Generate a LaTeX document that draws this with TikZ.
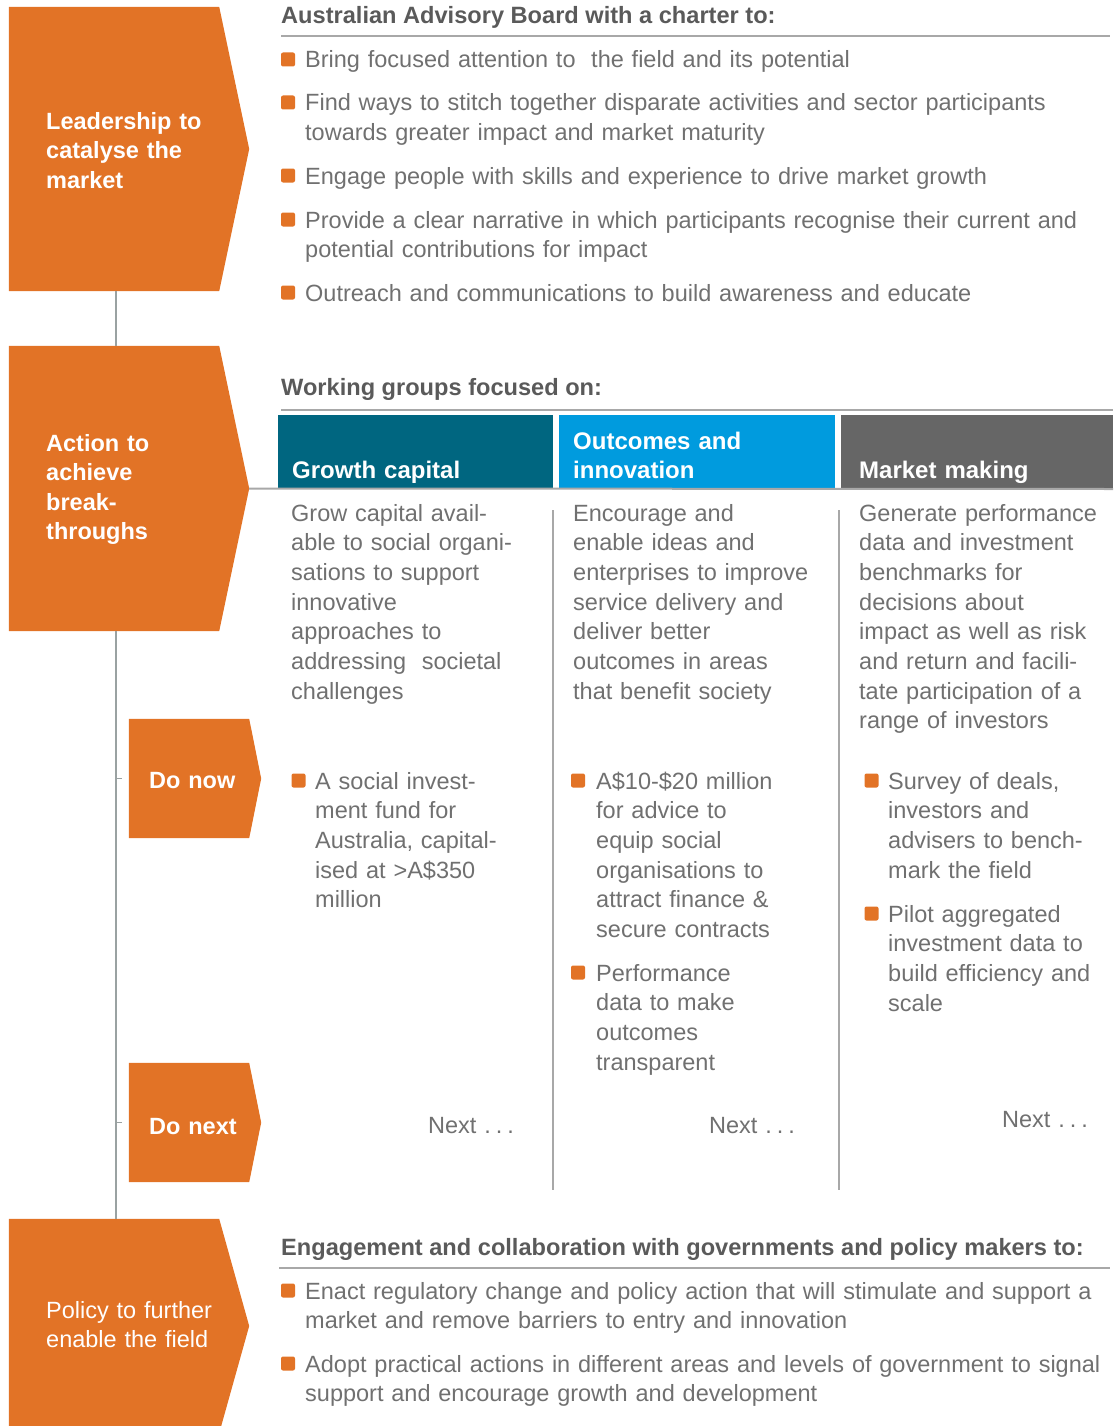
\documentclass[tikz,border=0pt]{standalone}
\usepackage{fontspec}
\setmainfont{Liberation Sans}
\definecolor{corg}{HTML}{E27326}
\definecolor{cteal}{HTML}{006680}
\definecolor{cblue}{HTML}{009BDE}
\definecolor{cgrey}{HTML}{666666}
\definecolor{ctext}{HTML}{707070}
\definecolor{chead}{HTML}{5A5A5A}
\definecolor{cline}{HTML}{A8A8A8}
\definecolor{cspine}{HTML}{9AA2A2}
\newcommand\chevfill[2]{\fill[corg] (#1.north west) -- (#1.north east) -- ([xshift=#2]#1.east) -- (#1.south east) -- (#1.south west) -- cycle;}
\newcommand\mybul[3]{\node[bulsq] (#1) at ([xshift=#3,yshift=8.5pt]#2.base west) {};}
\newcommand\nextdots{Next .\hspace{5pt}.\hspace{5pt}.}
\begin{document}
\begin{tikzpicture}[x=1pt,y=-1pt,
  chevrect/.style={rectangle,inner sep=0pt,draw=none},
  bodytxt/.style={font=\fontsize{23.5}{29.7}\selectfont,text=ctext,align=left,inner sep=0pt,anchor=base west,text width=#1},
  bodytxt/.default=810pt,
  chevtxt/.style={font=\bfseries\fontsize{23.5}{29.5}\selectfont,text=white,align=left,inner sep=0pt,anchor=base west,text width=200pt},
  headtxt/.style={font=\bfseries\fontsize{23.6}{26}\selectfont,text=chead,anchor=base west,inner sep=0pt},
  colhead/.style={font=\bfseries\fontsize{24}{29.5}\selectfont,text=white,align=left,inner sep=0pt,anchor=base west,text width=250pt},
  colbox/.style={rectangle,inner sep=0pt,minimum height=74pt,anchor=north west},
  bulsq/.style={fill=corg,rounded corners=2pt,minimum size=14pt,inner sep=0pt,draw=none},
  rulel/.style={draw=cline,line width=1.5pt},
  spine/.style={draw=cspine,line width=1.5pt}]
\useasboundingbox (0,0) rectangle (1113,1426);
\begin{scope}
\clip (0,0) rectangle (1113,1426);
% chevrons
\node[chevrect,minimum width=210pt,minimum height=284pt] (lead) at (114,149) {};
\chevfill{lead}{30pt}
\node[chevrect,minimum width=210pt,minimum height=285pt] (act) at (114,488.5) {};
\chevfill{act}{30pt}
\node[chevrect,minimum width=210pt,minimum height=214pt] (pol) at (114,1326) {};
\chevfill{pol}{30pt}
\node[chevrect,minimum width=120pt,minimum height=119pt] (donow) at (189,778.5) {};
\chevfill{donow}{12pt}
\node[chevrect,minimum width=120pt,minimum height=119pt] (donext) at (189,1122.5) {};
\chevfill{donext}{12pt}
\end{scope}
% spine connectors
\draw[spine] ([xshift=2pt]lead.south) -- ([xshift=2pt]act.north);
\draw[spine] ([xshift=2pt]act.south) coordinate (spinetop) -- ([xshift=2pt]pol.north);
\draw[spine,line width=1pt,shorten >=7pt] (spinetop |- donow.west) -- (donow.west);
\draw[spine,line width=1pt,shorten >=7pt] (spinetop |- donext.west) -- (donext.west);
% chevron texts
\node[chevtxt] (leadtxt) at (46,129) {Leadership to\\catalyse the\\market};
\node[chevtxt] (acttxt) at (46,451) {Action to\\achieve\\break-\\throughs};
\node[chevtxt,font=\fontsize{23.5}{29.5}\selectfont] (poltxt) at (46,1318) {Policy to further\\enable the field};
\node[chevtxt] (donowtxt) at (149,788) {Do now};
\node[chevtxt] (donexttxt) at (149,1134) {Do next};
% section 1
\node[headtxt] (h1) at (281,24) {Australian Advisory Board with a charter to:};
\draw[rulel] (281,36) -- (1110,36);
\node[bodytxt] (a1) at (305,68) {Bring focused attention to\ \ the field and its potential};
\node[bodytxt] (a2) at (305,111) {Find ways to stitch together disparate activities and sector participants\\towards greater impact and market maturity};
\node[bodytxt] (a3) at (305,184) {Engage people with skills and experience to drive market growth};
\node[bodytxt] (a4) at (305,228) {Provide a clear narrative in which participants recognise their current and\\potential contributions for impact};
\node[bodytxt] (a5) at (305,301) {Outreach and communications to build awareness and educate};
\mybul{ba1}{a1}{-17pt}
\mybul{ba2}{a2}{-17pt}
\mybul{ba3}{a3}{-17pt}
\mybul{ba4}{a4}{-17pt}
\mybul{ba5}{a5}{-17pt}
% section 2
\node[headtxt] (h2) at (281,395) {Working groups focused on:};
\draw[rulel] (281,410) -- (1113,410);
\node[colbox,fill=cteal,minimum width=275pt] (cg) at (278,415) {};
\node[colbox,fill=cblue,minimum width=276pt] (co) at (559,415) {};
\node[colbox,fill=cgrey,minimum width=272pt] (cm) at (841,415) {};
\node[colhead] (cgt) at (292,478) {Growth capital};
\node[colhead] (cot) at (573,449) {Outcomes and\\innovation};
\node[colhead] (cmt) at (859,478) {Market making};
\coordinate (rightend) at (1113,489);
\draw[draw=cline,line width=2pt] ([xshift=30pt]act.east) -- (rightend);
\draw[rulel] (553,510) -- (553,1190);
\draw[rulel] (839,510) -- (839,1190);
\node[bodytxt=260pt] (g1) at (291,521) {Grow capital avail-\\able to social organi-\\sations to support\\innovative\\approaches to\\addressing\ \ societal\\challenges};
\node[bodytxt=260pt] (o1) at (573,521) {Encourage and\\enable ideas and\\enterprises to improve\\service delivery and\\deliver better\\outcomes in areas\\that benefit society};
\node[bodytxt=260pt] (m1) at (859,521) {Generate performance\\data and investment\\benchmarks for\\decisions about\\impact as well as risk\\and return and facili-\\tate participation of a\\range of investors};
\node[bodytxt=230pt] (g2) at (315,789) {A social invest-\\ment fund for\\Australia, capital-\\ised at >A\$350\\million};
\node[bodytxt=230pt] (o2) at (596,789) {A\$10-\$20 million\\for advice to\\equip social\\organisations to\\attract finance \&\\secure contracts};
\node[bodytxt=230pt] (o3) at (596,981) {Performance\\data to make\\outcomes\\transparent};
\node[bodytxt=230pt] (m2) at (888,789) {Survey of deals,\\investors and\\advisers to bench-\\mark the field};
\node[bodytxt=230pt] (m3) at (888,922) {Pilot aggregated\\investment data to\\build efficiency and\\scale};
\mybul{bg2}{g2}{-16.5pt}
\mybul{bo2}{o2}{-18pt}
\mybul{bo3}{o3}{-18pt}
\mybul{bm2}{m2}{-16.5pt}
\mybul{bm3}{m3}{-16.5pt}
\node[bodytxt=150pt] (gn) at (428,1133) {\nextdots};
\node[bodytxt=150pt] (on) at (709,1133) {\nextdots};
\node[bodytxt=150pt] (mn) at (1002,1127) {\nextdots};
% section 4
\node[headtxt] (h4) at (281,1255) {Engagement and collaboration with governments and policy makers to:};
\draw[rulel] (279,1268) -- (1110,1268);
\node[bodytxt] (p1) at (305,1299) {Enact regulatory change and policy action that will stimulate and support a\\market and remove barriers to entry and innovation};
\node[bodytxt] (p2) at (305,1372) {Adopt practical actions in different areas and levels of government to signal\\support and encourage growth and development};
\mybul{bp1}{p1}{-17pt}
\mybul{bp2}{p2}{-17pt}
\end{tikzpicture}
\end{document}
